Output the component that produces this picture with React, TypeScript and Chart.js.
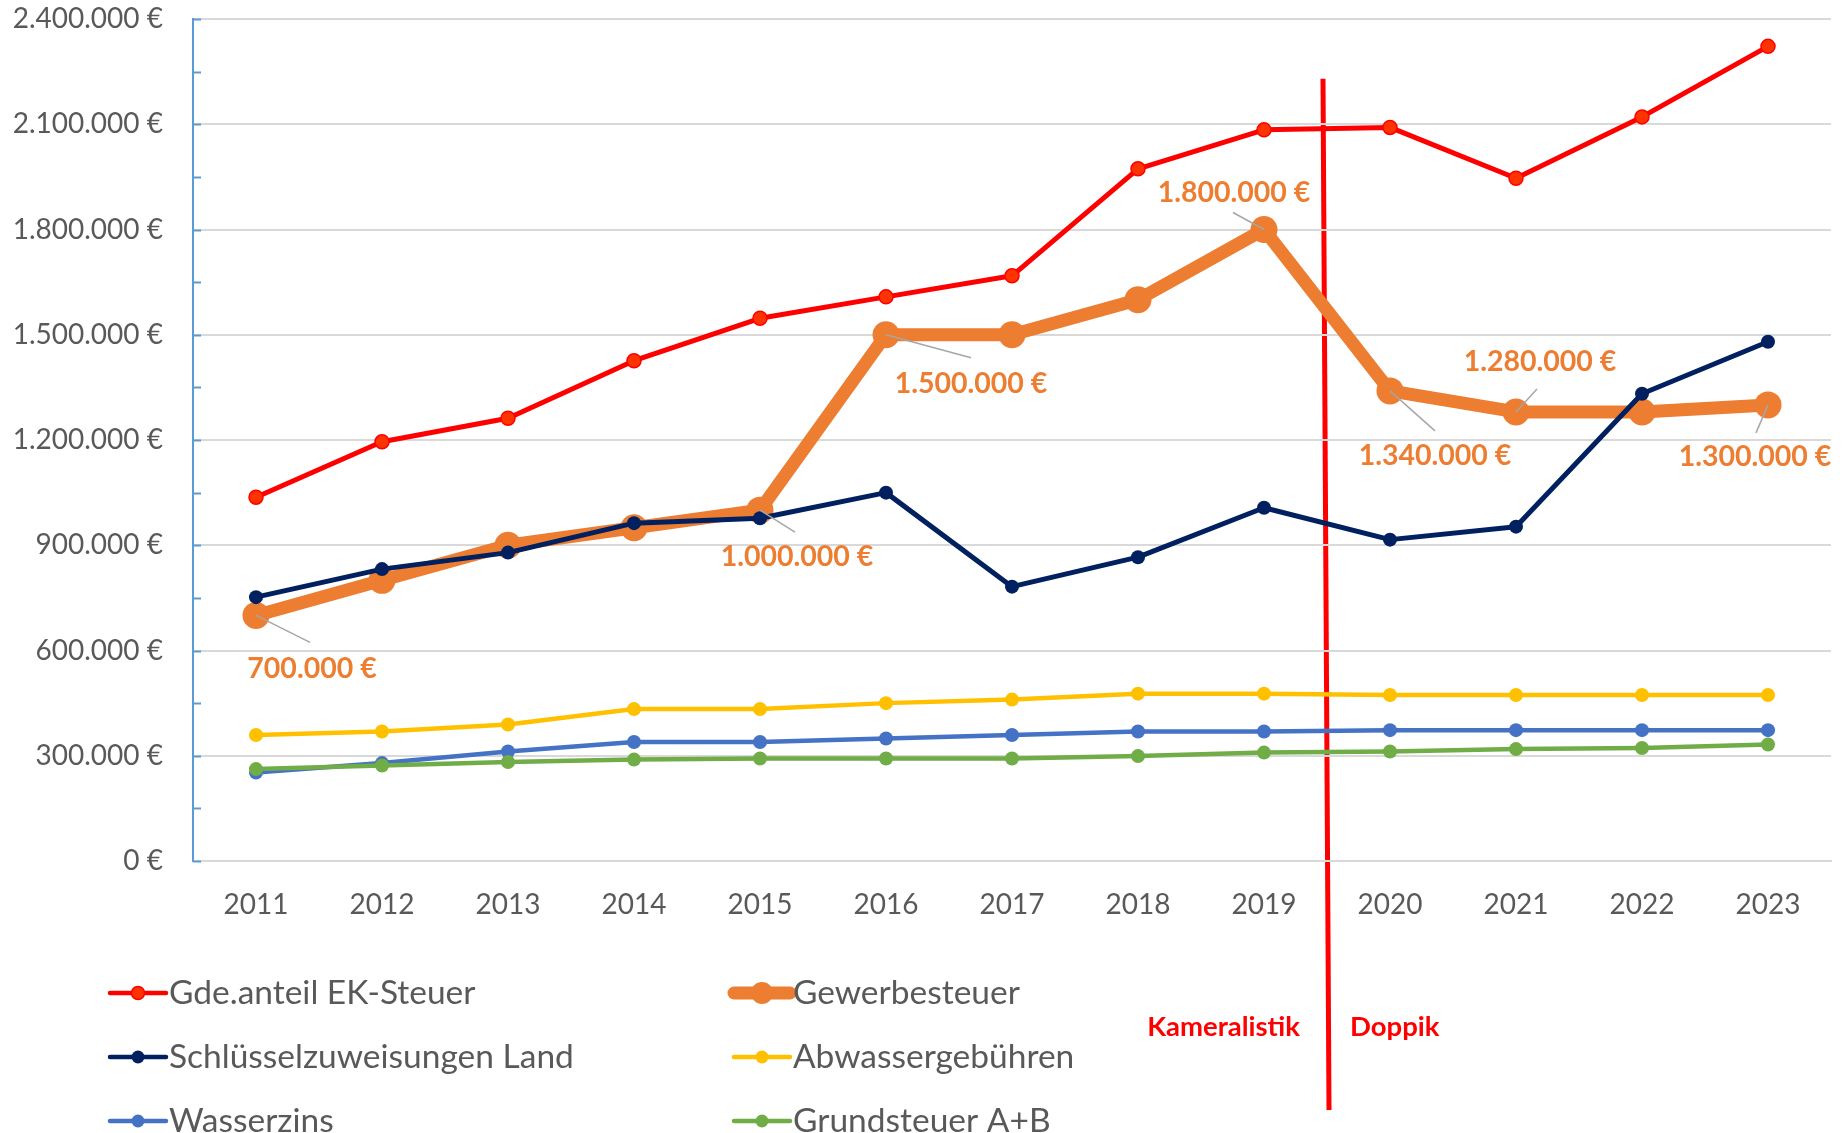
import { useEffect, useRef } from 'react';
import { Chart, registerables } from 'chart.js';

Chart.register(...registerables);

// ---------- data ----------
const years = ['2011', '2012', '2013', '2014', '2015', '2016', '2017', '2018', '2019', '2020', '2021', '2022', '2023'];
const ekSteuer = [1037000, 1195000, 1262000, 1426000, 1547000, 1608000, 1668000, 1973000, 2084000, 2091000, 1946000, 2121000, 2322000];
const gewerbesteuer = [700000, 800000, 900000, 950000, 1000000, 1500000, 1500000, 1600000, 1800000, 1340000, 1280000, 1280000, 1300000];
const schluesselzuweisungen = [752000, 832000, 879000, 963000, 977000, 1050000, 782000, 866000, 1007000, 916000, 953000, 1332000, 1480000];
const abwassergebuehren = [359000, 369000, 389000, 433000, 433000, 450000, 460000, 477000, 477000, 473000, 473000, 473000, 473000];
const wasserzins = [252000, 279000, 312000, 339000, 339000, 349000, 359000, 369000, 369000, 373000, 373000, 373000, 373000];
const grundsteuer = [262000, 272000, 282000, 289000, 292000, 292000, 292000, 299000, 309000, 312000, 319000, 322000, 332000];

const seriesNames = [
  'Gde.anteil EK-Steuer',
  'Gewerbesteuer',
  'Schlüsselzuweisungen Land',
  'Abwassergebühren',
  'Wasserzins',
  'Grundsteuer A+B',
];
const seriesValues = [ekSteuer, gewerbesteuer, schluesselzuweisungen, abwassergebuehren, wasserzins, grundsteuer];

const yMin = 0;
const yMax = 2400000;
const yStep = 300000;
const yMinorStep = 150000;

const labeledYears = ['2011', '2015', '2016', '2019', '2020', '2021', '2023'];
const phaseLabels = ['Kameralistik', 'Doppik'];
const phaseBoundary = 8.5; // between 2019 and 2020
const phaseLineTopValue = 2230000;

// ---------- styles ----------
const FONT = 'Lato, "Open Sans", sans-serif';
const TEXT_GRAY = '#595959';
const GRID = '#D9D9D9';

const seriesStyles = [
  { color: '#FF0000', fill: '#FF3300', width: 5, radius: 7, borderW: 1.5 },
  { color: '#ED7D31', fill: '#ED7D31', width: 13, radius: 13.5, borderW: 0 },
  { color: '#002060', fill: '#002060', width: 5, radius: 7, borderW: 0 },
  { color: '#FFC000', fill: '#FFC000', width: 4.5, radius: 7, borderW: 0 },
  { color: '#4472C4', fill: '#4472C4', width: 4.5, radius: 7, borderW: 0 },
  { color: '#70AD47', fill: '#70AD47', width: 4.5, radius: 7, borderW: 0 },
];

// data-label placement (offsets from the point, in px)
const labelPlacement: Record<string, { dx: number; dy: number; lx: number; ly: number }> = {
  '2011': { dx: 56, dy: 53, lx: 54, ly: 27 },
  '2015': { dx: 37, dy: 47, lx: 35, ly: 22 },
  '2016': { dx: 85, dy: 49, lx: 85, ly: 23 },
  '2019': { dx: -30, dy: -37, lx: -31, ly: -17 },
  '2020': { dx: 45, dy: 65, lx: 45, ly: 40 },
  '2021': { dx: 24, dy: -50, lx: 21, ly: -23 },
  '2023': { dx: -13, dy: 52, lx: -12, ly: 28 },
};

const legendLayout = {
  colX: [110, 734],
  rowY: [993, 1057, 1121],
  markerLen: 56,
  textGap: 3,
};

const fmtEuro = (v: number) =>
  String(Math.round(v)).replace(/\B(?=(\d{3})+(?!\d))/g, '.') + ' €';

const overlayPlugin = {
  id: 'overlay',
  beforeDraw(chart: any) {
    const { ctx } = chart;
    const x = chart.scales.x;
    const y = chart.scales.y;
    const xp = x.getPixelForValue(phaseBoundary);
    const topY = y.getPixelForValue(phaseLineTopValue);
    ctx.save();
    ctx.strokeStyle = '#FF0000';
    ctx.lineWidth = 5;
    ctx.beginPath();
    ctx.moveTo(xp - 4, topY);
    ctx.lineTo(xp + 2, chart.height - 23);
    ctx.stroke();
    ctx.font = `bold 27.5px ${FONT}`;
    ctx.fillStyle = '#FF0000';
    ctx.textBaseline = 'middle';
    const ly = chart.chartArea.bottom + 166;
    ctx.textAlign = 'right';
    ctx.fillText(phaseLabels[0], xp - 27, ly);
    ctx.textAlign = 'left';
    ctx.fillText(phaseLabels[1], xp + 23, ly);
    ctx.restore();
  },
  afterDatasetsDraw(chart: any) {
    const { ctx } = chart;
    const y = chart.scales.y;
    const left = chart.chartArea.left;
    ctx.save();
    // inner tick marks on the value axis
    ctx.strokeStyle = '#5B9BD5';
    ctx.lineWidth = 2;
    for (let v = yMin; v <= yMax; v += yMinorStep) {
      const py = Math.round(y.getPixelForValue(v)) + 0.5;
      ctx.beginPath();
      ctx.moveTo(left, py);
      ctx.lineTo(left + 8, py);
      ctx.stroke();
    }
    // data labels for Gewerbesteuer
    const meta = chart.getDatasetMeta(1);
    ctx.font = `bold 28.5px ${FONT}`;
    ctx.fillStyle = '#ED7D31';
    ctx.textAlign = 'center';
    ctx.textBaseline = 'middle';
    labeledYears.forEach((yr) => {
      const idx = years.indexOf(yr);
      const pt = meta.data[idx];
      const p = labelPlacement[yr];
      ctx.strokeStyle = '#A6A6A6';
      ctx.lineWidth = 1.5;
      ctx.beginPath();
      ctx.moveTo(pt.x, pt.y);
      ctx.lineTo(pt.x + p.lx, pt.y + p.ly);
      ctx.stroke();
      ctx.fillText(fmtEuro(gewerbesteuer[idx]), pt.x + p.dx, pt.y + p.dy);
    });
    ctx.restore();
  },
  afterDraw(chart: any) {
    const { ctx } = chart;
    ctx.save();
    ctx.font = `33.5px ${FONT}`;
    ctx.textBaseline = 'middle';
    ctx.textAlign = 'left';
    seriesNames.forEach((name, i) => {
      const col = i % 2;
      const row = Math.floor(i / 2);
      const x0 = legendLayout.colX[col];
      const yy = legendLayout.rowY[row];
      const s = seriesStyles[i];
      const lw = i === 1 ? s.width : 4.5;
      const r = i === 1 ? 11 : 6.5;
      ctx.strokeStyle = s.color;
      ctx.lineWidth = lw;
      ctx.lineCap = 'round';
      ctx.beginPath();
      ctx.moveTo(x0, yy);
      ctx.lineTo(x0 + legendLayout.markerLen, yy);
      ctx.stroke();
      ctx.beginPath();
      ctx.arc(x0 + legendLayout.markerLen / 2, yy, r, 0, Math.PI * 2);
      ctx.fillStyle = s.fill;
      ctx.fill();
      if (s.borderW > 0) {
        ctx.lineWidth = s.borderW;
        ctx.strokeStyle = s.color;
        ctx.stroke();
      }
      ctx.fillStyle = TEXT_GRAY;
      ctx.fillText(name, x0 + legendLayout.markerLen + legendLayout.textGap, yy);
    });
    ctx.restore();
  },
};

export default function App() {
  const canvasRef = useRef<HTMLCanvasElement | null>(null);

  useEffect(() => {
    let chart: Chart | null = null;
    let cancelled = false;
    const build = () => {
      if (cancelled || !canvasRef.current) return;
      chart = new Chart(canvasRef.current, {
        type: 'line',
        data: {
          labels: years,
          datasets: seriesNames.map((name, i) => ({
            label: name,
            data: seriesValues[i],
            borderColor: seriesStyles[i].color,
            backgroundColor: seriesStyles[i].fill,
            borderWidth: seriesStyles[i].width,
            pointRadius: seriesStyles[i].radius,
            pointHoverRadius: seriesStyles[i].radius,
            pointBackgroundColor: seriesStyles[i].fill,
            pointBorderColor: seriesStyles[i].color,
            pointBorderWidth: seriesStyles[i].borderW,
            borderJoinStyle: 'round' as const,
            borderCapStyle: 'round' as const,
            tension: 0,
            fill: false,
            order: seriesNames.length - i,
          })),
        },
        options: {
          responsive: false,
          animation: false,
          devicePixelRatio: 1,
          layout: { padding: { top: 19, right: 16, left: 0, bottom: 0 } },
          plugins: {
            legend: { display: false },
            tooltip: { enabled: false },
            title: { display: false },
          },
          scales: {
            x: {
              type: 'category',
              offset: true,
              grid: { display: false, drawTicks: false },
              border: { display: true, color: GRID, width: 2 },
              ticks: {
                color: TEXT_GRAY,
                font: { family: FONT, size: 28 },
                padding: 27,
                maxRotation: 0,
                autoSkip: false,
              },
              afterFit: (scale: any) => {
                scale.height = 272;
                scale.paddingLeft = 0;
                scale.paddingRight = 0;
              },
            },
            y: {
              min: yMin,
              max: yMax,
              grid: { color: GRID, lineWidth: 2, drawTicks: false },
              border: { display: true, color: '#5B9BD5', width: 2 },
              ticks: {
                stepSize: yStep,
                color: TEXT_GRAY,
                font: { family: FONT, size: 28 },
                padding: 30,
                callback: (v: any) => fmtEuro(Number(v)),
              },
              afterFit: (scale: any) => {
                scale.width = 193;
                scale.paddingTop = 0;
                scale.paddingBottom = 0;
              },
            },
          },
        },
        plugins: [overlayPlugin],
      } as any);
    };
    const fontsReady = (document as any).fonts
      ? Promise.all([
          (document as any).fonts.load(`28px Lato`),
          (document as any).fonts.load(`bold 28px Lato`),
        ]).catch(() => null)
      : Promise.resolve(null);
    fontsReady.then(build);
    return () => {
      cancelled = true;
      if (chart) chart.destroy();
    };
  }, []);

  return (
    <div style={{ position: 'fixed', left: 0, top: 0, width: 1847, height: 1133, background: '#fff' }}>
      <canvas ref={canvasRef} width={1847} height={1133} style={{ width: 1847, height: 1133, display: 'block' }} />
    </div>
  );
}
